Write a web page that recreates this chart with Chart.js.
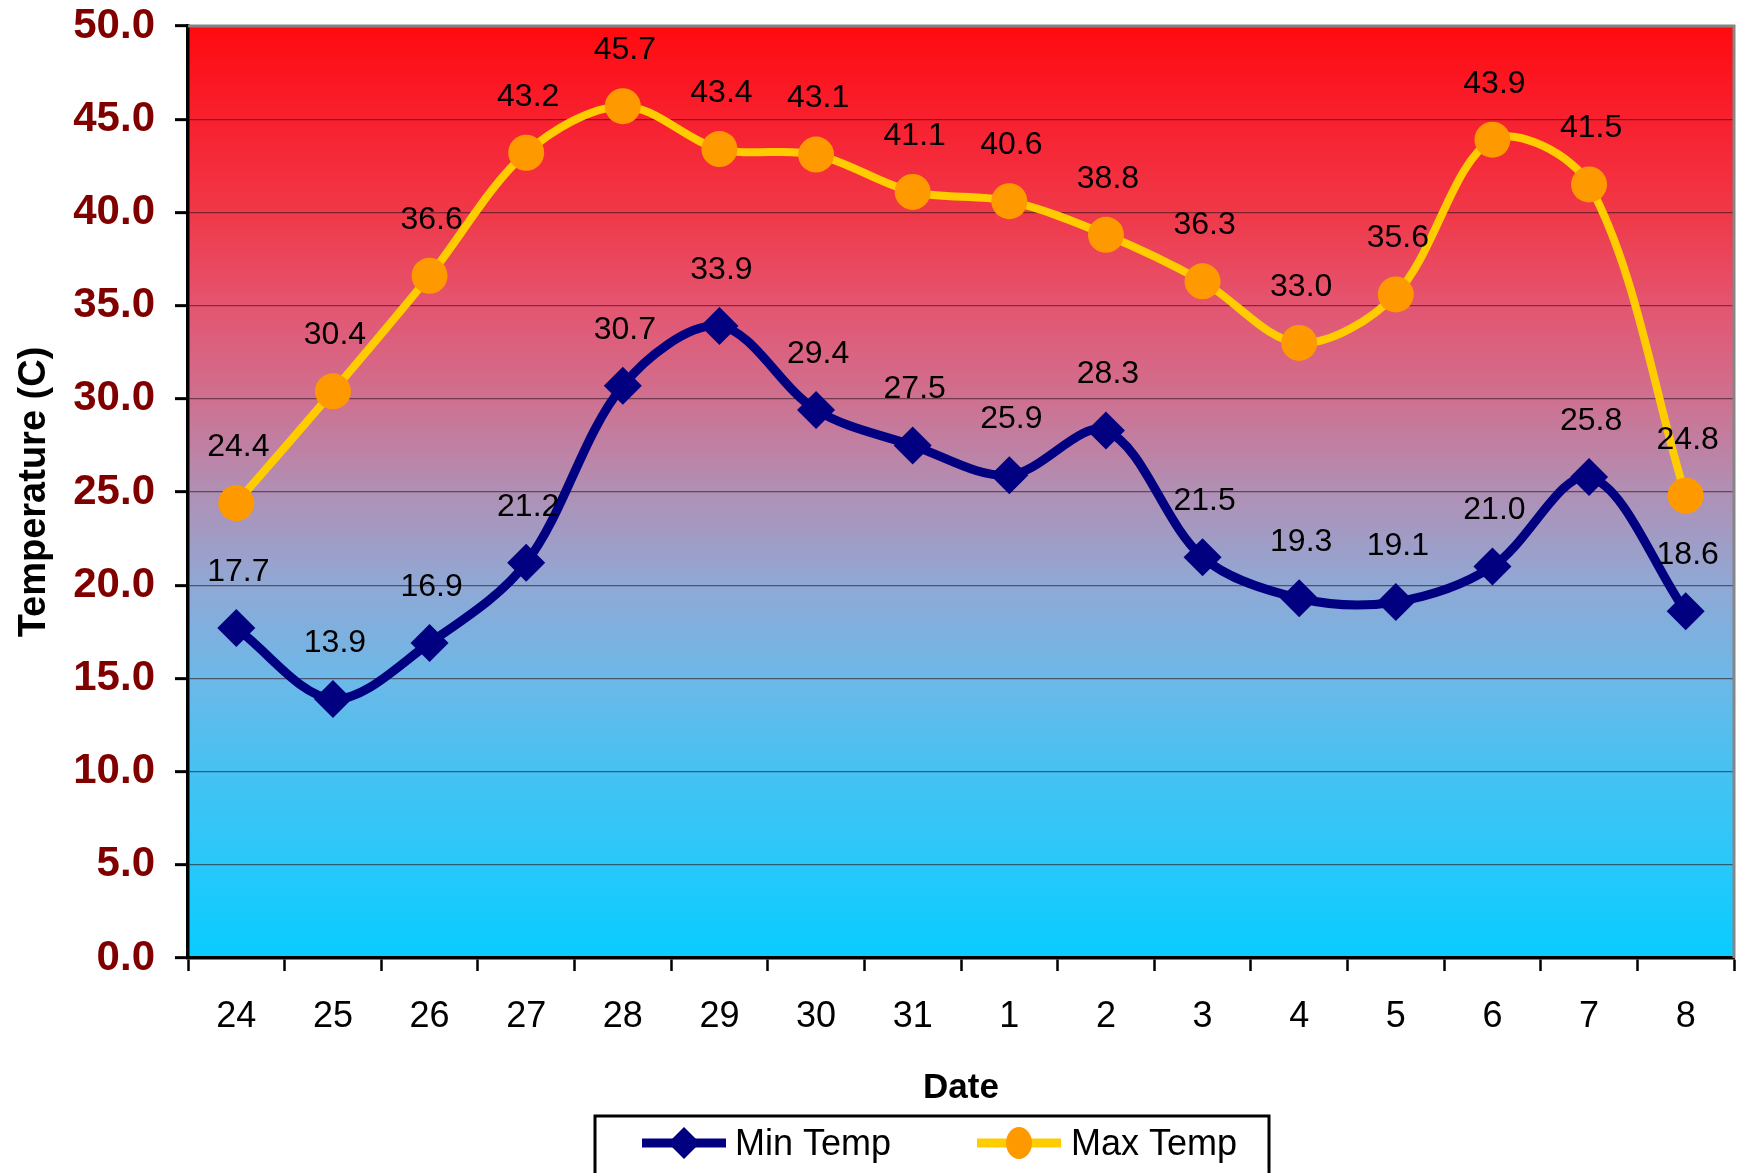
<!DOCTYPE html>
<html>
<head>
<meta charset="utf-8">
<script src="https://cdn.jsdelivr.net/npm/chart.js@4.4.1/dist/chart.umd.min.js"></script>
<style>
  html, body { margin: 0; padding: 0; background: #ffffff; }
  #wrap { width: 1745px; height: 1173px; position: relative; overflow: hidden; }
  canvas { display: block; }
</style>
</head>
<body>
<div id="wrap"><canvas id="c" width="1745" height="1173" style="width:1745px;height:1173px"></canvas></div>
<script>
// ---- data ----
const dates = ['24', '25', '26', '27', '28', '29', '30', '31', '1', '2', '3', '4', '5', '6', '7', '8'];
const minTemp = [17.7, 13.9, 16.9, 21.2, 30.7, 33.9, 29.4, 27.5, 25.9, 28.3, 21.5, 19.3, 19.1, 21.0, 25.8, 18.6];
const maxTemp = [24.4, 30.4, 36.6, 43.2, 45.7, 43.4, 43.1, 41.1, 40.6, 38.8, 36.3, 33.0, 35.6, 43.9, 41.5, 24.8];
const seriesNames = ['Min Temp', 'Max Temp'];
const yMin = 0, yMax = 50, yStep = 5;
const xTitle = 'Date';
const yTitle = 'Temperature (C)';

const FONT = "'Liberation Sans', Arial, Helvetica, sans-serif";
const NAVY = '#000080';
const YELLOW = '#FFCC00';
const ORANGE = '#FF9900';

// background gradient stops (value -> colour)
const gradStops = [
  [50, '#FF0A0F'], [45, '#F8202F'], [40, '#F03848'], [35, '#E45570'],
  [30, '#CF7090'], [25, '#B090B5'], [20, '#90A8D5'], [15, '#6CB8E8'],
  [10, '#45C2F2'], [5, '#28C8FA'], [0, '#08CCFF']
];

const bgPlugin = {
  id: 'bg',
  beforeDraw(chart) {
    const { ctx, chartArea: a } = chart;
    const g = ctx.createLinearGradient(0, a.top, 0, a.bottom);
    gradStops.forEach(([v, c]) => g.addColorStop((yMax - v) / (yMax - yMin), c));
    ctx.save();
    ctx.fillStyle = g;
    ctx.fillRect(a.left, a.top, a.right - a.left, a.bottom - a.top);
    ctx.restore();
  },
  afterDraw(chart) {
    const { ctx, chartArea: a } = chart;
    ctx.save();
    ctx.strokeStyle = '#858585';
    ctx.lineWidth = 3;
    ctx.beginPath();
    ctx.moveTo(a.left, a.top);
    ctx.lineTo(a.right, a.top);
    ctx.lineTo(a.right, a.bottom);
    ctx.stroke();
    ctx.restore();
  }
};

const labelPlugin = {
  id: 'vlabels',
  afterDatasetsDraw(chart) {
    const { ctx } = chart;
    ctx.save();
    ctx.font = '32px ' + FONT;
    ctx.fillStyle = '#000';
    ctx.textAlign = 'center';
    ctx.textBaseline = 'middle';
    chart.data.datasets.forEach((ds, i) => {
      const meta = chart.getDatasetMeta(i);
      meta.data.forEach((pt, j) => {
        ctx.fillText(ds.data[j].toFixed(1), pt.x + 2, pt.y - 56);
      });
    });
    ctx.restore();
  }
};

const legendPlugin = {
  id: 'customLegend',
  afterDraw(chart) {
    const { ctx } = chart;
    const bx = 595, by = 1116, bw = 674, bh = 90;
    const cy = 1143;
    ctx.save();
    ctx.strokeStyle = '#000';
    ctx.lineWidth = 3;
    ctx.strokeRect(bx, by, bw, bh);
    // Min Temp icon
    ctx.strokeStyle = NAVY;
    ctx.lineWidth = 9;
    ctx.beginPath(); ctx.moveTo(642, cy); ctx.lineTo(726, cy); ctx.stroke();
    ctx.fillStyle = NAVY;
    ctx.beginPath();
    ctx.moveTo(684, cy - 16); ctx.lineTo(700, cy); ctx.lineTo(684, cy + 16); ctx.lineTo(668, cy);
    ctx.closePath(); ctx.fill();
    // Max Temp icon
    ctx.strokeStyle = YELLOW;
    ctx.beginPath(); ctx.moveTo(977, cy); ctx.lineTo(1061, cy); ctx.stroke();
    ctx.fillStyle = ORANGE;
    ctx.beginPath(); ctx.ellipse(1019, cy, 13, 16, 0, 0, Math.PI * 2); ctx.fill();
    // texts
    ctx.fillStyle = '#000';
    ctx.font = '36px ' + FONT;
    ctx.textAlign = 'left';
    ctx.textBaseline = 'middle';
    ctx.fillText(seriesNames[0], 735, cy + 2);
    ctx.fillText(seriesNames[1], 1071, cy + 2);
    ctx.restore();
  }
};

const chart = new Chart(document.getElementById('c').getContext('2d'), {
  type: 'line',
  data: {
    labels: dates,
    datasets: [
      {
        label: seriesNames[0], data: minTemp,
        borderColor: NAVY, backgroundColor: NAVY, borderWidth: 9,
        pointStyle: 'rectRot', pointRadius: 19, pointBorderWidth: 0,
        pointBackgroundColor: NAVY, pointBorderColor: NAVY,
        tension: 0.33, fill: false
      },
      {
        label: seriesNames[1], data: maxTemp,
        borderColor: YELLOW, backgroundColor: YELLOW, borderWidth: 8,
        pointStyle: 'circle', pointRadius: 18, pointBorderWidth: 0,
        pointBackgroundColor: ORANGE, pointBorderColor: ORANGE,
        tension: 0.33, fill: false
      }
    ]
  },
  options: {
    responsive: false, animation: false, devicePixelRatio: 1,
    layout: { autoPadding: false, padding: { top: 26, right: 11, left: 0, bottom: 0 } },
    plugins: { legend: { display: false }, tooltip: { enabled: false } },
    scales: {
      x: {
        offset: true,
        grid: { offset: true, drawOnChartArea: false, drawTicks: true, tickLength: 13, tickColor: '#000', tickWidth: 2.5 },
        border: { color: '#000', width: 3.5 },
        ticks: { font: { family: FONT, size: 36 }, color: '#000', padding: 24, maxRotation: 0, autoSkip: false },
        title: { display: true, text: xTitle, font: { family: FONT, size: 35, weight: 'bold' }, color: '#000', padding: { top: 0, bottom: 64 } },
        afterFit(s) { s.height = 215; s.paddingLeft = 0; s.paddingRight = 0; s.paddingTop = 0; s.paddingBottom = 0; }
      },
      y: {
        min: yMin, max: yMax,
        ticks: { stepSize: yStep, callback: v => Number(v).toFixed(1), font: { family: FONT, size: 42, weight: 'bold', lineHeight: 1.0 }, color: '#800000', padding: 20 },
        grid: { color: 'rgba(50,20,30,0.6)', lineWidth: 1.3, tickColor: '#000', tickWidth: 3, tickLength: 13 },
        border: { color: '#000', width: 3.5 },
        title: { display: true, text: yTitle, font: { family: FONT, size: 38, weight: 'bold' }, color: '#000', padding: { top: 12, bottom: 0 } },
        afterFit(s) { s.width = 188; s.paddingLeft = 0; s.paddingRight = 0; s.paddingTop = 0; s.paddingBottom = 0; }
      }
    }
  },
  plugins: [bgPlugin, labelPlugin, legendPlugin]
});
</script>
</body>
</html>
